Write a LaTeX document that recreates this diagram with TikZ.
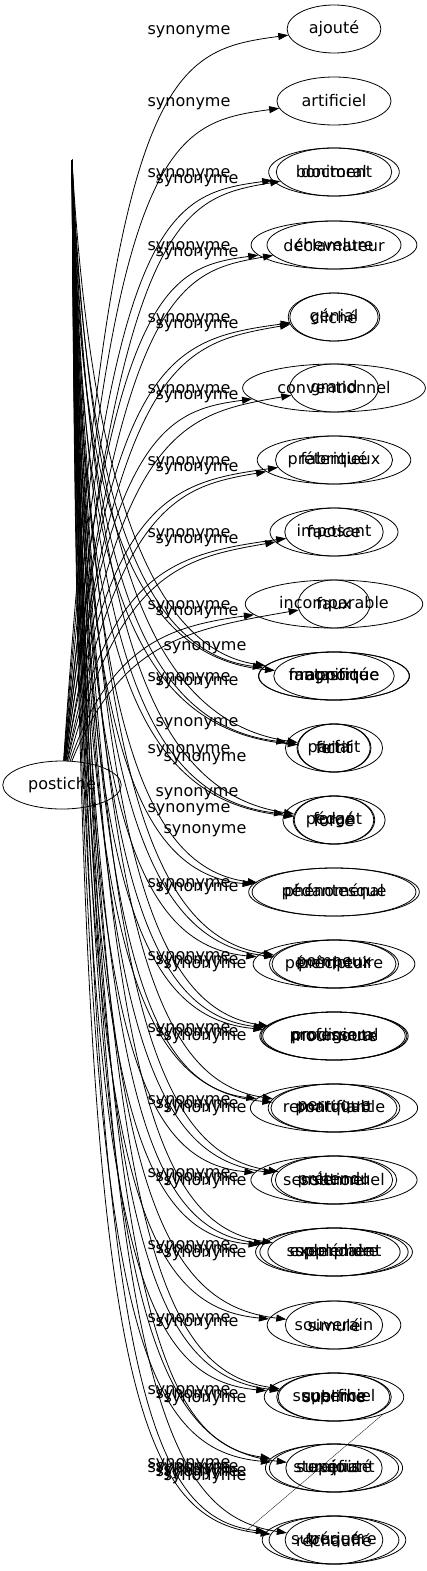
\documentclass[tikz,border=0pt]{standalone}
\usepackage{fontspec}
\newfontfamily\dejavu{DejaVu Sans}
\usetikzlibrary{arrows.meta,shapes.geometric}

\begin{document}
\begin{tikzpicture}[x=1pt, y=-1pt,
    word/.style={draw, ellipse, line width=0.8pt, inner xsep=8pt, inner ysep=1pt, minimum height=48pt, font=\dejavu\fontsize{16}{18}\selectfont},
    syn/.style={inner sep=0pt, font=\dejavu\fontsize{16}{18}\selectfont},
    arr/.style={-{Triangle[length=10pt,width=7pt]}, line width=0.8pt}
]
\useasboundingbox (0,0) rectangle (426,1571);

\node[word] (postiche) at (62,785) {postiche};
\coordinate (apex) at (72,160);

% colonne des synonymes
\foreach \n/\y/\w in {ajoute/29/ajouté, artificiel/101/artificiel,
    boniment/172/boniment, doctoral/172/doctoral,
    declamateur/245/déclamateur, chevelure/245/chevelure,
    cliche/317/cliché, genial/317/génial,
    conventionnel/388/conventionnel, grand/388/grand,
    fabrique/460/fabriqué, pretentieux/460/prétentieux,
    factice/532/factice, imposant/532/imposant,
    incomparable/604/incomparable, faux/604/faux,
    rapporte/676/rapporté, fantastique/676/fantastique, magnifique/676/magnifique,
    fictif/748/fictif, parfait/748/parfait, feint/748/feint,
    force/820/forcé, pedant/820/pédant, forge/820/forgé,
    pedantesque/892/pédantesque, phenomenal/892/phénoménal,
    peremptoire/964/péremptoire, precheur/964/prêcheur, pompeux/964/pompeux,
    moumoute/1036/moumoute, professoral/1036/professoral, prodigieux/1036/prodigieux,
    perruque/1108/perruque, remarquable/1108/remarquable, pontifiant/1108/pontifiant,
    sensationnel/1180/sensationnel, pretendu/1180/prétendu, solennel/1180/solennel,
    supplement/1252/supplément, exemplaire/1252/exemplaire, splendide/1252/splendide,
    souverain/1325/souverain, simule/1325/simulé,
    superficiel/1397/superficiel, sublime/1397/sublime, superbe/1397/superbe,
    surajoute/1468/surajouté, exquis/1468/exquis, stupefiant/1468/stupéfiant,
    rechauffe/1540/réchauffé, superieure/1540/supérieure, truque/1540/truqué}
    \node[word] (\n) at (334,\y) {\w};

% vers le haut
\foreach \n/\y/\j in {ajoute/29/0, artificiel/101/0, boniment/172/0, doctoral/172/1,
    declamateur/245/0, chevelure/245/1, cliche/317/0, genial/317/1,
    conventionnel/388/0, grand/388/1, fabrique/460/0, pretentieux/460/1,
    factice/532/0, imposant/532/1, incomparable/604/0, faux/604/1} {
  \node[syn] (l-\n) at (189+8*\j, \y+3+6*\j) {synonyme};
  \draw[arr] (postiche) .. controls (110+10*\j, \y+40) and (170+12*\j, \y+22+4*\j) .. (\n);
}

% vers le bas
\foreach \n/\y/\j/\ly in {rapporte/676/0/679, fantastique/676/1/679, magnifique/676/2/640,
    fictif/748/0/751, parfait/748/1/720, feint/748/2/751,
    force/820/0/810, pedant/820/1/790, forge/820/2/823,
    pedantesque/892/0/885, phenomenal/892/1/885,
    peremptoire/964/0/958, precheur/964/1/958, pompeux/964/2/958,
    moumoute/1036/0/1030, professoral/1036/1/1030, prodigieux/1036/2/1030,
    perruque/1108/0/1102, remarquable/1108/1/1102, pontifiant/1108/2/1102,
    sensationnel/1180/0/1175, pretendu/1180/1/1175, solennel/1180/2/1175,
    supplement/1252/0/1247, exemplaire/1252/1/1247, splendide/1252/2/1247,
    souverain/1325/0/1320, simule/1325/1/1320,
    superficiel/1397/0/1392, sublime/1397/1/1392, superbe/1397/2/1392,
    surajoute/1468/0/1465, exquis/1468/1/1465, stupefiant/1468/2/1465,
    rechauffe/1540/0/1470, superieure/1540/1/1470, truque/1540/2/1470} {
  \node[syn] (l-\n) at (189+8*\j, \ly+4*\j) {synonyme};
  \draw[arr] (apex) .. controls (78+6*\j, \y-200) and (120+14*\j, \y-20-4*\j) .. (\n);
}

\draw[line width=0.3pt] (superficiel.-20) -- ([xshift=-16pt,yshift=9pt]superieure.west);
\end{tikzpicture}
\end{document}
